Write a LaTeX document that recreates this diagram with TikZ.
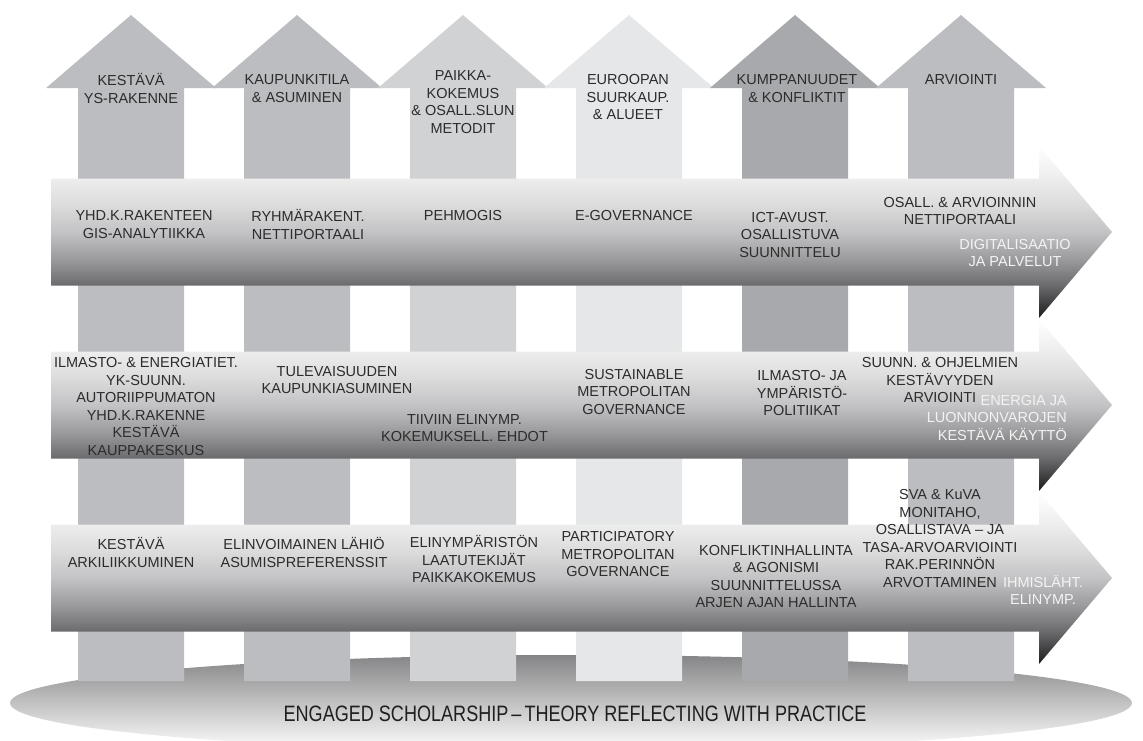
\documentclass[tikz,border=0pt]{standalone}
\usepackage{fontspec}
\setmainfont{Liberation Sans}
\usepackage{graphicx}
\definecolor{txt}{HTML}{2C2C2C}
\definecolor{wtxt}{HTML}{F3F3F3}
\definecolor{colA}{HTML}{BCBDC0}
\definecolor{colB}{HTML}{D1D2D4}
\definecolor{colC}{HTML}{E6E7E8}
\definecolor{colD}{HTML}{A7A9AC}
\definecolor{sh0}{HTML}{1C1C1C}
\definecolor{sh1}{HTML}{6B6B6E}
\definecolor{sh2}{HTML}{9A9A9C}
\definecolor{sh3}{HTML}{C3C3C5}
\definecolor{sh4}{HTML}{DCDCDD}
\definecolor{sh5}{HTML}{EDEDED}
\definecolor{sh6}{HTML}{FFFFFF}
\definecolor{elltop}{HTML}{858587}
\pgfdeclareverticalshading{arrowshade}{100bp}{color(0bp)=(sh0); color(25bp)=(sh0); color(34.5bp)=(sh1); color(42bp)=(sh2); color(50bp)=(sh3); color(58bp)=(sh4); color(65.5bp)=(sh5); color(75bp)=(sh6); color(100bp)=(sh6)}
\tikzset{
  lbl/.style={font=\fontsize{14.5}{17.5}\selectfont, text=txt, align=center, inner sep=0pt},
  wlbl/.style={lbl, text=wtxt},
}
\begin{document}
\begin{tikzpicture}[x=1pt,y=-1pt]
\useasboundingbox (0,0) rectangle (1143,740);
% base ellipse
\shade[top color=elltop, bottom color=white] (571,703) ellipse [x radius=561, y radius=48];
% vertical arrows
\foreach \cx/\col in {131/colA,297/colA,463/colB,629/colC,795/colD,961/colA}{
  \fill[\col] (\cx-53,681) -- (\cx-53,88) -- (\cx-85,88) -- (\cx,15) -- (\cx+85,88) -- (\cx+53,88) -- (\cx+53,681) -- cycle;
}
% horizontal arrows
\foreach \cy in {232,405,578}{
  \shade[shading=arrowshade] (51,\cy-53.5) -- (1039,\cy-53.5) -- (1039,\cy-86) -- (1112,\cy) -- (1039,\cy+86) -- (1039,\cy+53.5) -- (51,\cy+53.5) -- cycle;
}
% column labels
\node[lbl] (v1) at (131,88.5) {KESTÄVÄ\\YS-RAKENNE};
\node[lbl] (v2) at (297,88.5) {KAUPUNKITILA\\\& ASUMINEN};
\node[lbl] (v3) at (463,102) {PAIKKA-\\KOKEMUS\\\& OSALL.SLUN\\METODIT};
\node[lbl] (v4) at (628,97.5) {EUROOPAN\\SUURKAUP.\\\& ALUEET};
\node[lbl] (v5) at (797,88.5) {KUMPPANUUDET\\\& KONFLIKTIT};
\node[lbl] (v6) at (961,80) {ARVIOINTI};
% row 1
\node[lbl] (a1) at (144,224.5) {YHD.K.RAKENTEEN\\GIS-ANALYTIIKKA};
\node[lbl] (a2) at (308,224.5) {RYHMÄRAKENT.\\NETTIPORTAALI};
\node[lbl] (a3) at (463,216) {PEHMOGIS};
\node[lbl] (a4) at (634,216) {E-GOVERNANCE};
\node[lbl] (a5) at (790,235) {ICT-AVUST.\\OSALLISTUVA\\SUUNNITTELU};
\node[lbl] (a6) at (960,211) {OSALL. \& ARVIOINNIN\\NETTIPORTAALI};
\node[wlbl] (a7) at (1015,253) {DIGITALISAATIO\\JA PALVELUT};
% row 2
\node[lbl] (b1) at (146,406.5) {ILMASTO- \& ENERGIATIET.\\YK-SUUNN.\\AUTORIIPPUMATON\\YHD.K.RAKENNE\\KESTÄVÄ\\KAUPPAKESKUS};
\node[lbl] (b2) at (337,380) {TULEVAISUUDEN\\KAUPUNKIASUMINEN};
\node[lbl] (b3) at (464.5,428) {TIIVIIN ELINYMP.\\KOKEMUKSELL. EHDOT};
\node[lbl] (b4) at (634,391.5) {SUSTAINABLE\\METROPOLITAN\\GOVERNANCE};
\node[lbl] (b5) at (802,393) {ILMASTO- JA\\YMPÄRISTÖ-\\POLITIIKAT};
\node[lbl] (b6) at (940,380) {SUUNN. \& OHJELMIEN\\KESTÄVYYDEN\\ARVIOINTI};
\node[wlbl, align=right, anchor=east] (b7) at (1067,417.5) {ENERGIA JA\\LUONNONVAROJEN\\KESTÄVÄ KÄYTTÖ};
% row 3
\node[lbl] (c1) at (131,552.5) {KESTÄVÄ\\ARKILIIKKUMINEN};
\node[lbl] (c2) at (304,552.5) {ELINVOIMAINEN LÄHIÖ\\ASUMISPREFERENSSIT};
\node[lbl] (c3) at (474,559) {ELINYMPÄRISTÖN\\LAATUTEKIJÄT\\PAIKKAKOKEMUS};
\node[lbl] (c4) at (618,554) {PARTICIPATORY\\METROPOLITAN\\GOVERNANCE};
\node[lbl] (c5) at (776,576.5) {KONFLIKTINHALLINTA\\\& AGONISMI\\SUUNNITTELUSSA\\ARJEN AJAN HALLINTA};
\node[lbl] (c6) at (940,538.5) {SVA \& KuVA\\MONITAHO,\\OSALLISTAVA – JA\\TASA-ARVOARVIOINTI\\RAK.PERINNÖN\\ARVOTTAMINEN};
\node[wlbl] (c7) at (1043,590) {IHMISLÄHT.\\ELINYMP.};
% base label
\node[inner sep=0pt, text=black!88] (base) at (575,714) {\scalebox{0.81}[1]{\fontsize{22.3}{22.3}\selectfont ENGAGED SCHOLARSHIP\,–\,THEORY REFLECTING WITH PRACTICE}};
\end{tikzpicture}
\end{document}
